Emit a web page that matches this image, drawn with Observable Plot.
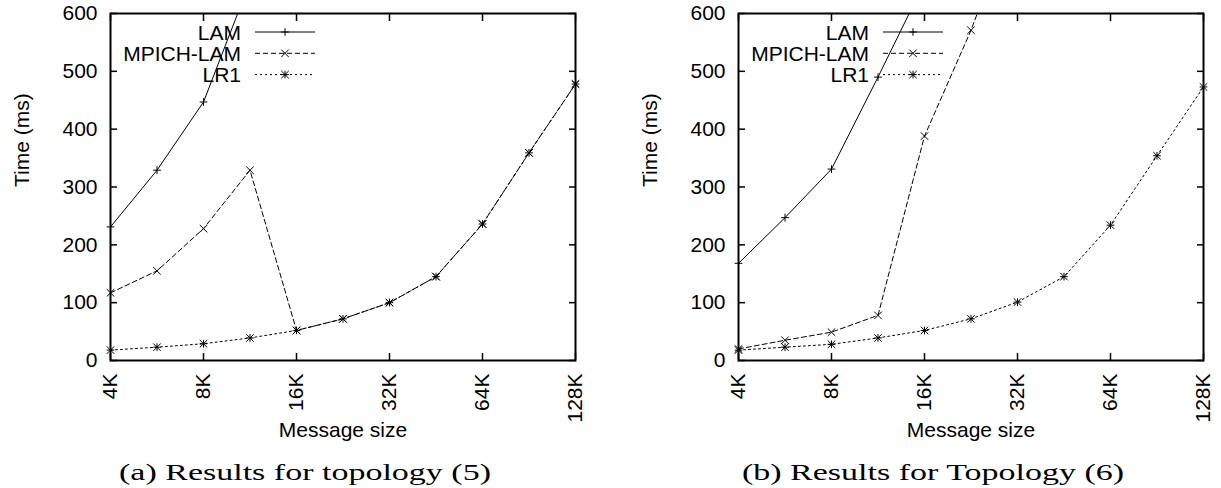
<!DOCTYPE html>
<html><head><meta charset="utf-8">
<script src="https://cdn.jsdelivr.net/npm/d3@7"></script>
<script src="https://cdn.jsdelivr.net/npm/@observablehq/plot@0.6"></script>
<style>
body{margin:0;background:#fff;}
#wrap{display:flex;width:1221px;height:488px;overflow:hidden;}
#wrap svg{display:block;}
</style></head><body><div id="wrap"></div>
<script>
// Message sizes (bytes), half-octave steps from 4K to 128K
const sizes = [4096, 5793, 8192, 11585, 16384, 23170, 32768, 46341, 65536, 92682, 131072];
const xTickValues = [4096, 8192, 16384, 32768, 65536, 131072];
const xTickLabels = ["4K", "8K", "16K", "32K", "64K", "128K"];
const yTickValues = [0, 100, 200, 300, 400, 500, 600];
const seriesNames = ["LAM", "MPICH-LAM", "LR1"];
const captions = ["(a) Results for topology (5)", "(b) Results for Topology (6)"];

// (a) topology (5), time in ms
const lamA = [231, 329, 447, 655];
const mpichA = [117, 155, 228, 329, 52, 72, 100, 145, 236, 359, 478];
const lr1A = [18, 23, 29, 39, 52, 72, 100, 145, 236, 359, 478];

// (b) topology (6), time in ms
const lamB = [168, 247, 331, 490, 654];
const mpichB = [20, 35, 49, 78, 388, 571, 786];
const lr1B = [18, 23, 28, 39, 52, 72, 101, 145, 234, 354, 473];

const FONT = "'Liberation Sans', Arial, Helvetica, sans-serif";
const styles = {
  "LAM": {dash: null, symbols: ["plus"]},
  "MPICH-LAM": {dash: "5,3", symbols: ["times"]},
  "LR1": {dash: "2,3", symbols: ["plus", "times"]}
};
const rOf = {plus: 2.6, times: 3.5};

function panel({lam, mpich, lr1, caption, width, marginLeft, marginRight}) {
  const rows = (vals, name) => vals.map((v, i) => ({size: sizes[i], time: v, series: name}));
  const data = {"LAM": rows(lam, "LAM"), "MPICH-LAM": rows(mpich, "MPICH-LAM"), "LR1": rows(lr1, "LR1")};
  const inFrame = d => d.time <= 600;
  const fmt = d => xTickLabels[xTickValues.indexOf(d)];
  const lineMarks = [], dotMarks = [];
  for (const name of seriesNames) {
    lineMarks.push(Plot.line(data[name], {x: "size", y: "time", stroke: "#000", strokeWidth: 1, strokeDasharray: styles[name].dash, clip: true}));
    for (const s of styles[name].symbols)
      dotMarks.push(Plot.dot(data[name].filter(inFrame), {x: "size", y: "time", symbol: s, r: rOf[s], stroke: "#000", strokeWidth: 1}));
  }
  const plot = Plot.plot({
    width, height: 488, marginLeft, marginRight, marginTop: 13, marginBottom: 128,
    style: {fontFamily: FONT, fontSize: "21px", color: "#000", background: "#fff"},
    x: {type: "log", base: 2, domain: [4096, 131072]},
    y: {domain: [0, 600]},
    marks: [
      Plot.axisX(xTickValues, {anchor: "bottom", tickSize: -7, tickPadding: 20, tickRotate: -90, textAnchor: "end", tickFormat: fmt, label: null, strokeWidth: 1.5}),
      Plot.axisX(xTickValues, {anchor: "top", tickSize: -7, tickFormat: () => "", label: null, strokeWidth: 1.5}),
      Plot.axisY(yTickValues, {anchor: "left", tickSize: -7, tickPadding: 20, label: null, strokeWidth: 1.5}),
      Plot.axisY(yTickValues, {anchor: "right", tickSize: -7, tickFormat: () => "", label: null, strokeWidth: 1.5}),
      ...lineMarks,
      ...dotMarks,
      Plot.frame({stroke: "#000", strokeWidth: 2}),
      Plot.text(["Message size"], {frameAnchor: "bottom", text: d => d, dy: 76, fontSize: 21}),
      Plot.text(["Time (ms)"], {frameAnchor: "left", text: d => d, dx: -88, rotate: -90, fontSize: 21})
    ]
  });
  const svg = d3.select(plot);
  // legend
  const lg = svg.append("g").attr("font-family", FONT).attr("font-size", 21);
  seriesNames.forEach((name, i) => {
    const y = 32 + i * 21.3;
    const tx = marginLeft + 131;
    lg.append("text").attr("x", tx).attr("y", y).attr("dy", "0.36em").attr("text-anchor", "end").text(name);
    lg.append("line").attr("x1", tx + 14).attr("x2", tx + 74).attr("y1", y).attr("y2", y)
      .attr("stroke", "#000").attr("stroke-width", 1).attr("stroke-dasharray", styles[name].dash);
    for (const s of styles[name].symbols) {
      const sym = s === "plus" ? d3.symbolPlus : d3.symbolTimes;
      lg.append("path").attr("d", d3.symbol(sym, Math.PI * rOf[s] * rOf[s])())
        .attr("transform", `translate(${tx + 44},${y})`).attr("fill", "none").attr("stroke", "#000").attr("stroke-width", 1);
    }
  });
  // caption (Computer Modern-like, stretched to the reference width)
  const frameCenter = marginLeft + (width - marginLeft - marginRight) / 2;
  svg.append("text").attr("x", frameCenter - 37.5).attr("y", 480).attr("text-anchor", "middle")
    .attr("font-family", "'Liberation Serif', 'Times New Roman', serif").attr("font-size", 23)
    .attr("textLength", caption.startsWith("(a)") ? 372 : 382).attr("lengthAdjust", "spacingAndGlyphs")
    .attr("fill", "#000").text(caption);
  return plot;
}

const wrap = document.getElementById("wrap");
wrap.append(panel({lam: lamA, mpich: mpichA, lr1: lr1A, caption: captions[0], width: 610, marginLeft: 110, marginRight: 35}));
wrap.append(panel({lam: lamB, mpich: mpichB, lr1: lr1B, caption: captions[1], width: 611, marginLeft: 128, marginRight: 18}));
</script>
</body></html>
